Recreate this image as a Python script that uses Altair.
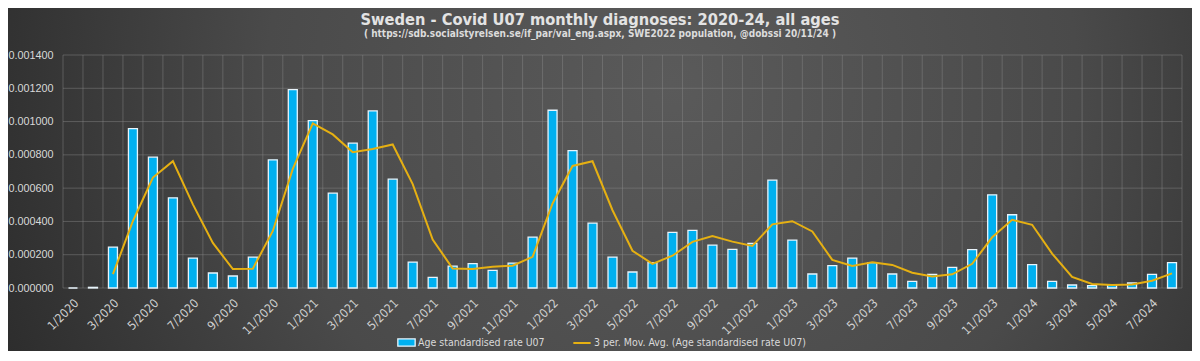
import altair as alt
import pandas as pd

# Categories: months 1/2020 .. 8/2024
months = [f"{m}/{y}" for y in range(2020, 2025) for m in range(1, 13)][:56]

# Age standardised rate U07
rate_2020 = [0.0, 0.000004, 0.000246, 0.000958, 0.000786, 0.000542, 0.000180, 0.000090, 0.000072, 0.000186, 0.000770, 0.001192]
rate_2021 = [0.001006, 0.000570, 0.000870, 0.001064, 0.000654, 0.000156, 0.000064, 0.000132, 0.000146, 0.000106, 0.000150, 0.000306]
rate_2022 = [0.001068, 0.000826, 0.000390, 0.000186, 0.000096, 0.000152, 0.000334, 0.000346, 0.000258, 0.000232, 0.000268, 0.000648]
rate_2023 = [0.000288, 0.000084, 0.000134, 0.000180, 0.000152, 0.000084, 0.000040, 0.000082, 0.000124, 0.000230, 0.000560, 0.000440]
rate_2024 = [0.000140, 0.000040, 0.000018, 0.000014, 0.000020, 0.000030, 0.000082, 0.000152]
rates = rate_2020 + rate_2021 + rate_2022 + rate_2023 + rate_2024

y_ticks = [0, 0.0002, 0.0004, 0.0006, 0.0008, 0.0010, 0.0012, 0.0014]

TITLE = "Sweden - Covid U07 monthly diagnoses: 2020-24, all ages"
SUBTITLE = "( https://sdb.socialstyrelsen.se/if_par/val_eng.aspx, SWE2022 population,  @dobssi 20/11/24 )"
BAR_NAME = "Age standardised rate U07"
LINE_NAME = "3 per. Mov. Avg. (Age standardised rate U07)"

df = pd.DataFrame({"month": months, "idx": list(range(len(months))), "rate": rates})
ticks_df = pd.DataFrame({"rate": y_ticks})

W, H = 1119, 233
PAD = {"left": 55, "top": 47, "right": 10, "bottom": 63}
COND_FONT = "DejaVu Sans Condensed, Roboto"
GRID_COLOR = "#8a8a8a"
GRID_OPACITY = 0.45

x_scale = alt.Scale(domain=months, paddingInner=0, paddingOuter=0)
y_scale = alt.Scale(domain=[0, 0.0014], nice=False)

x_axis = alt.Axis(
    title=None,
    labelAngle=-45,
    labelExpr="toNumber(split(datum.label, '/')[0]) % 2 == 1 ? datum.label : ''",
    grid=False,
    ticks=False,
    domain=False,
    labelPadding=9,
    labelFontSize=12,
    labelFont=COND_FONT,
    labelColor="#d0d0d0",
    labelOverlap=False,
    zindex=1,
)
y_axis = alt.Axis(
    title=None,
    values=y_ticks,
    format=".6f",
    grid=False,
    ticks=False,
    domain=False,
    labelPadding=10,
    labelFontSize=10.8,
    labelFont="Liberation Sans, Arial",
    labelColor="#d9d9d9",
    labelOverlap=False,
    zindex=1,
)

bg = alt.Chart(alt.Data(values=[{"a": 1}])).mark_rect(
    fill=alt.RadialGradient(
        gradient="radial",
        x1=0.56, y1=0.42, r1=0.0,
        x2=0.56, y2=0.42, r2=0.75,
        stops=[
            alt.GradientStop(offset=0, color="#5a5a5a"),
            alt.GradientStop(offset=0.45, color="#4a4a4a"),
            alt.GradientStop(offset=1, color="#1c1c1c"),
        ],
    )
).encode(
    x=alt.value(-PAD["left"] - 8),
    x2=alt.value(W + PAD["right"] + 8),
    y=alt.value(-PAD["top"] - 8),
    y2=alt.value(H + PAD["bottom"] + 8),
)

# title and subtitle as text marks (centred on the page)
titles = alt.Chart(alt.Data(values=[{"t": TITLE}])).mark_text(
    font=COND_FONT, fontSize=16.3, fontWeight="bold", color="#e3e3e3", align="center", baseline="alphabetic"
).encode(text="t:N", x=alt.value(537), y=alt.value(-30))
subtitles = alt.Chart(alt.Data(values=[{"t": SUBTITLE}])).mark_text(
    font=COND_FONT, fontSize=10, fontWeight="bold", color="#dcdcdc", align="center", baseline="alphabetic"
).encode(text="t:N", x=alt.value(537), y=alt.value(-18))

# gridlines (behind bars)
hgrid = alt.Chart(ticks_df).mark_rule(color=GRID_COLOR, opacity=GRID_OPACITY, strokeWidth=1).encode(
    y=alt.Y("rate:Q", scale=y_scale, axis=y_axis)
)
vgrid = alt.Chart(df).mark_rule(color=GRID_COLOR, opacity=GRID_OPACITY, strokeWidth=1).encode(
    x=alt.X("month:N", sort=months, scale=x_scale, bandPosition=0, axis=x_axis)
)
vgrid_end = alt.Chart(alt.Data(values=[{"month": months[-1]}])).mark_rule(
    color=GRID_COLOR, opacity=GRID_OPACITY, strokeWidth=1
).encode(x=alt.X("month:N", sort=months, scale=x_scale, bandPosition=1, axis=x_axis))

bars = alt.Chart(df).mark_bar(
    width=alt.RelativeBandSize(0.45),
    stroke="#e8f4fb",
    strokeWidth=1.3,
).encode(
    x=alt.X("month:N", sort=months, scale=x_scale, axis=x_axis),
    y=alt.Y("rate:Q", scale=y_scale, axis=y_axis),
    fill=alt.Fill(
        "s:N",
        scale=alt.Scale(domain=[BAR_NAME], range=["#00b0f0"]),
        legend=alt.Legend(
            title=None,
            orient="none",
            legendX=334,
            legendY=278,
            symbolType="M-1,-0.42L1,-0.42L1,0.42L-1,0.42Z",
            symbolSize=300,
            symbolStrokeColor="#e8f4fb",
            symbolStrokeWidth=1.3,
            labelFont=COND_FONT,
            labelFontSize=10.5,
            labelColor="#d9d9d9",
            labelOffset=2,
            labelLimit=400,
        ),
    ),
).transform_calculate(s=f"'{BAR_NAME}'")

line = alt.Chart(df).transform_window(
    ma="mean(rate)", frame=[-2, 0], sort=[alt.SortField("idx")]
).transform_filter("datum.idx >= 2").transform_calculate(
    s=f"'{LINE_NAME}'"
).mark_line(strokeWidth=2).encode(
    x=alt.X("month:N", sort=months, scale=x_scale, axis=x_axis),
    y=alt.Y("ma:Q", scale=y_scale, axis=y_axis),
    stroke=alt.Stroke(
        "s:N",
        scale=alt.Scale(domain=[LINE_NAME], range=["#e6b012"]),
        legend=alt.Legend(
            title=None,
            orient="none",
            legendX=509,
            legendY=278,
            symbolType="stroke",
            symbolSize=300,
            symbolStrokeWidth=2,
            labelFont=COND_FONT,
            labelFontSize=10.5,
            labelColor="#d9d9d9",
            labelOffset=2,
            labelLimit=400,
        ),
    ),
)

chart = alt.layer(bg, titles, subtitles, hgrid, vgrid, vgrid_end, bars, line).resolve_scale(
    fill="independent", stroke="independent"
).properties(
    width=W,
    height=H,
    padding=PAD,
    autosize=alt.AutoSizeParams(type="none"),
    background="#2a2a2a",
).configure_view(stroke=None).configure_axis(labelOverlap=False)

chart.save("out.html", embed_options={"renderer": "svg", "actions": False})
